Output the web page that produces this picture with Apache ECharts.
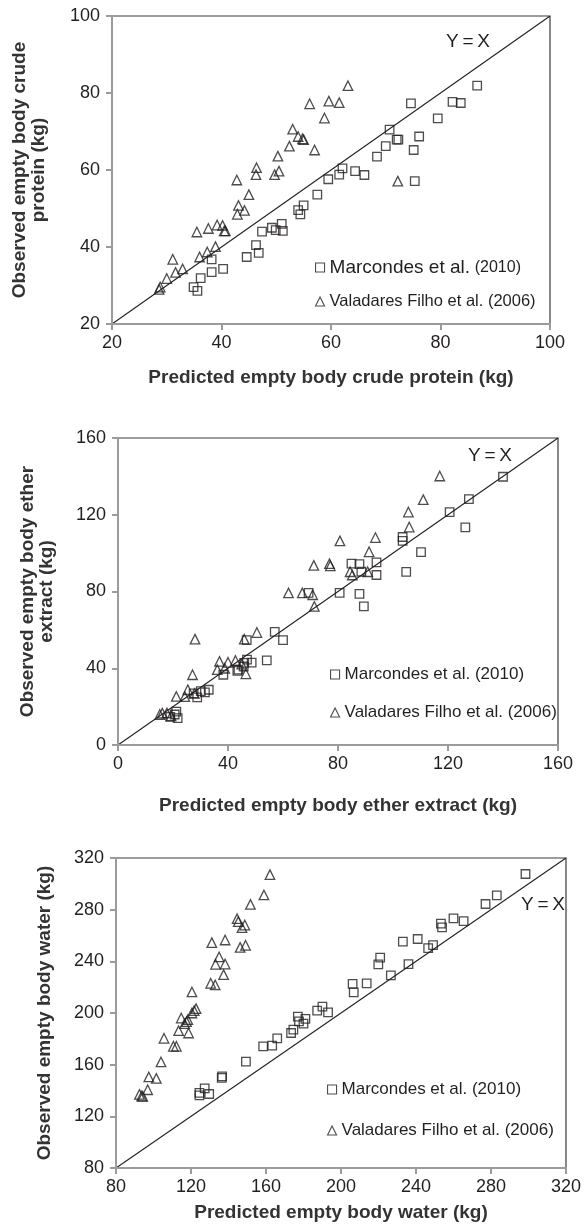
<!DOCTYPE html>
<html>
<head>
<meta charset="utf-8">
<script src="https://cdn.jsdelivr.net/npm/echarts@6/dist/echarts.min.js"></script>
<style>
html, body { margin: 0; padding: 0; background: #fff; }
#main { width: 584px; height: 1231px; }
</style>
</head>
<body>
<div id="main"></div>
<script>
// series names
const M = "Marcondes et al. (2010)"
const V = "Valadares Filho et al. (2006)"

// axis ranges [min, max, interval]
const cpRange = [20, 100, 20]
const eeRange = [0, 160, 40]
const waterRange = [80, 320, 40]

// crude protein (kg): [predicted, observed]
const cpMarcondes = [
    [34.9, 29.6], [35.6, 28.6], [36.2, 31.9], [38.2, 33.5], [38.2, 36.8], [40.3, 34.3],
    [44.6, 37.4], [46.3, 40.5], [46.8, 38.5], [47.4, 44.0], [49.2, 45.0], [49.9, 44.4],
    [51.0, 46.0], [51.2, 44.2], [54.0, 49.6], [54.4, 48.5], [55.0, 50.8], [57.5, 53.6],
    [59.5, 57.6], [61.5, 58.8], [62.1, 60.4], [64.4, 59.7], [66.1, 58.7], [68.4, 63.5],
    [70.0, 66.2], [70.7, 70.5], [72.0, 67.9], [72.3, 67.9], [74.6, 77.3], [75.1, 65.2],
    [75.3, 57.1], [76.1, 68.7], [79.5, 73.4], [82.2, 77.7], [83.7, 77.4], [86.7, 81.9]
]
const cpValadares = [
    [28.6, 29.0], [28.8, 29.6], [30.0, 31.8], [31.1, 36.8], [31.6, 33.4], [32.9, 34.3],
    [35.5, 43.9], [36.0, 37.4], [37.4, 38.7], [37.6, 44.8], [38.9, 40.1], [39.2, 45.7],
    [40.2, 45.6], [40.5, 44.2], [40.7, 44.2], [42.8, 57.4], [42.9, 48.5], [43.1, 50.8],
    [44.2, 49.5], [45.0, 53.6], [46.4, 60.6], [46.3, 58.8], [49.7, 58.8], [50.3, 63.6],
    [50.5, 59.7], [52.4, 66.2], [53.0, 70.6], [54.0, 68.7], [54.8, 68.1], [55.0, 67.9],
    [56.1, 77.2], [57.0, 65.2], [58.8, 73.5], [59.6, 77.9], [61.5, 77.5], [63.1, 81.9],
    [72.2, 57.1]
]

// ether extract (kg)
const eeMarcondes = [
    [21.2, 17.4], [21.7, 14.0], [20.6, 15.9], [19.0, 14.7], [27.5, 26.9], [28.8, 24.8],
    [30.1, 28.1], [31.6, 27.4], [33.0, 28.8], [38.3, 36.6], [43.4, 38.6], [43.8, 39.3],
    [45.9, 42.8], [46.8, 54.7], [46.9, 44.5], [48.6, 42.9], [45.7, 40.9], [54.1, 44.1],
    [57.0, 59.0], [60.0, 54.7], [69.3, 79.3], [80.6, 79.3], [84.9, 94.5], [87.8, 94.3],
    [87.8, 78.8], [88.5, 90.3], [89.4, 72.2], [94.0, 95.2], [94.0, 88.6], [103.5, 108.4],
    [103.5, 106.4], [104.8, 90.2], [110.2, 100.5], [120.6, 121.4], [126.3, 113.4],
    [127.6, 128.1], [140.0, 139.8]
]
const eeValadares = [
    [15.2, 15.9], [16.1, 16.6], [17.8, 16.7], [19.3, 15.2], [21.2, 25.3], [24.3, 25.2],
    [25.4, 28.8], [27.1, 36.6], [28.0, 55.2], [27.8, 26.9], [36.1, 39.3], [36.9, 43.6],
    [38.8, 40.0], [40.0, 43.1], [42.7, 44.0], [45.0, 42.1], [45.9, 55.2], [46.5, 37.1],
    [50.5, 58.6], [62.0, 79.3], [67.0, 79.3], [70.8, 78.3], [71.2, 93.6], [71.4, 72.2],
    [76.9, 94.5], [77.2, 93.4], [80.7, 106.4], [84.4, 90.3], [85.2, 88.6], [90.8, 90.3],
    [91.3, 100.7], [93.6, 108.1], [105.6, 121.4], [105.9, 113.6], [111.0, 127.9],
    [117.0, 140.2]
]

// water (kg)
const waterMarcondes = [
    [124.5, 136.3], [124.5, 138.1], [127.3, 141.7], [129.7, 137.3], [136.4, 149.7],
    [136.6, 151.0], [149.3, 162.3], [158.5, 174.2], [163.3, 174.7], [166.0, 180.4],
    [173.4, 184.5], [174.6, 187.1], [177.0, 197.2], [177.6, 193.5], [180.0, 191.7],
    [181.0, 195.4], [187.3, 201.8], [190.1, 204.9], [193.1, 200.5], [206.2, 222.5],
    [206.8, 216.0], [213.7, 223.0], [219.9, 237.7], [220.9, 242.8], [226.6, 229.2],
    [233.0, 255.2], [236.0, 237.9], [240.9, 257.3], [246.5, 250.3], [249.1, 252.6],
    [253.3, 269.2], [253.9, 266.3], [260.0, 273.3], [265.4, 271.2], [277.1, 284.4],
    [283.1, 291.1], [298.4, 307.6]
]
const waterValadares = [
    [92.5, 137.0], [93.7, 135.7], [94.3, 135.5], [96.9, 140.6], [97.5, 150.5],
    [101.5, 149.4], [104.0, 162.1], [105.6, 180.4], [110.6, 174.2], [112.2, 174.2],
    [113.4, 186.3], [114.8, 196.1], [116.6, 191.7], [117.6, 193.3], [118.3, 194.8],
    [118.7, 184.5], [120.5, 200.0], [120.5, 216.3], [121.7, 201.8], [122.7, 203.4],
    [130.5, 223.0], [132.9, 221.7], [131.1, 254.5], [133.1, 237.7], [135.0, 243.4],
    [137.4, 229.7], [138.2, 237.9], [138.2, 256.5], [144.6, 273.0], [145.2, 270.7],
    [146.2, 250.8], [147.2, 266.1], [148.7, 268.1], [149.1, 252.4], [151.7, 284.1],
    [158.9, 291.4], [162.1, 307.1]
]

const FONT = 'Arial, "Liberation Sans", sans-serif'
const INK = "#231f20"
const AXIS_GREY = "#9b9b9b"

const grids = [
    { left: 112, top: 16, width: 438, height: 308 },
    { left: 118, top: 438, width: 440, height: 307 },
    { left: 116, top: 858, width: 450, height: 310 },
]

function valueAxis(idx, range, name, nameGap, extra) {
    return Object.assign({
        type: "value",
        gridIndex: idx,
        min: range[0],
        max: range[1],
        interval: range[2],
        z: 5,
        name,
        nameLocation: "middle",
        nameGap,
        nameTextStyle: { fontFamily: FONT, fontSize: 19, fontWeight: "bold", color: "#333", lineHeight: 19 },
        axisLine: { show: true, onZero: false, lineStyle: { color: AXIS_GREY, width: 2 } },
        axisTick: { show: true, inside: false, length: 6, lineStyle: { color: AXIS_GREY, width: 2 } },
        axisLabel: { fontFamily: FONT, fontSize: 18, color: INK, margin: 10 },
        splitLine: { show: false },
    }, extra || {})
}

function pointSeries(idx, name, symbol, data) {
    return {
        type: "scatter",
        name,
        xAxisIndex: idx,
        yAxisIndex: idx,
        symbol,
        symbolSize: symbol === "rect" ? 8.5 : 9.5,
        itemStyle: { color: "transparent", borderColor: INK, borderWidth: 1.3 },
        emphasis: { disabled: true },
        data,
        z: 3,
    }
}

function identitySeries(idx, range) {
    return {
        type: "line",
        xAxisIndex: idx,
        yAxisIndex: idx,
        symbol: "none",
        silent: true,
        lineStyle: { color: INK, width: 1.1 },
        data: [[range[0], range[0]], [range[1], range[1]]],
        z: 2,
    }
}

function legendAt(left, top, gap, formatter, rich) {
    return {
        orient: "vertical",
        left,
        top,
        itemGap: gap,
        itemWidth: 9,
        itemHeight: 9,
        selectedMode: false,
        data: [{ name: M, icon: "rect" }, { name: V, icon: "triangle" }],
        itemStyle: { color: "transparent", borderColor: INK, borderWidth: 1.1 },
        textStyle: { fontFamily: FONT, fontSize: 17, color: INK, rich },
        formatter,
    }
}

function yxText(x, y) {
    return {
        type: "text",
        x,
        y,
        style: { text: "Y\u2009=\u2009X", font: "19px " + FONT, fill: INK, align: "center", verticalAlign: "middle" },
    }
}

const chart = echarts.init(document.getElementById("main"), null, { renderer: "canvas" })

const option = {
    backgroundColor: "#fff",
    animation: false,
    grid: grids.map((g) => Object.assign({ show: true, borderColor: "#3a3a3a", borderWidth: 1.2, backgroundColor: "transparent" }, g)),
    xAxis: [
        valueAxis(0, cpRange, "Predicted empty body crude protein (kg)", 44),
        valueAxis(1, eeRange, "Predicted empty body ether extract (kg)", 51),
        valueAxis(2, waterRange, "Predicted empty body water (kg)", 35),
    ],
    yAxis: [
        valueAxis(0, cpRange, "Observed empty body crude\nprotein (kg)", 64, { axisLabel: { fontFamily: FONT, fontSize: 18, color: INK, margin: 12 } }),
        valueAxis(1, eeRange, "Observed empty body ether\nextract (kg)", 62, { axisLabel: { fontFamily: FONT, fontSize: 18, color: INK, margin: 12 } }),
        valueAxis(2, waterRange, "Observed empty body water (kg)", 62, { axisLabel: { fontFamily: FONT, fontSize: 18, color: INK, margin: 12 } }),
    ],
    legend: [
        legendAt(310, 253, 16, (name) => (name === M ? "{big|Marcondes et al.} {small|(2010)}" : "{mid|" + name + "}"),
            { big: { fontSize: 19, fontFamily: FONT, color: INK }, small: { fontSize: 16, fontFamily: FONT, color: INK }, mid: { fontSize: 16.5, fontFamily: FONT, color: INK } }),
        legendAt(325, 661, 21),
        legendAt(322, 1076, 24),
    ],
    graphic: { elements: [yxText(468, 42), yxText(490, 456), yxText(543, 905)] },
    series: [
        pointSeries(0, M, "rect", cpMarcondes),
        pointSeries(0, V, "triangle", cpValadares),
        identitySeries(0, cpRange),
        pointSeries(1, M, "rect", eeMarcondes),
        pointSeries(1, V, "triangle", eeValadares),
        identitySeries(1, eeRange),
        pointSeries(2, M, "rect", waterMarcondes),
        pointSeries(2, V, "triangle", waterValadares),
        identitySeries(2, waterRange),
    ],
}

chart.setOption(option)
</script>
</body>
</html>
